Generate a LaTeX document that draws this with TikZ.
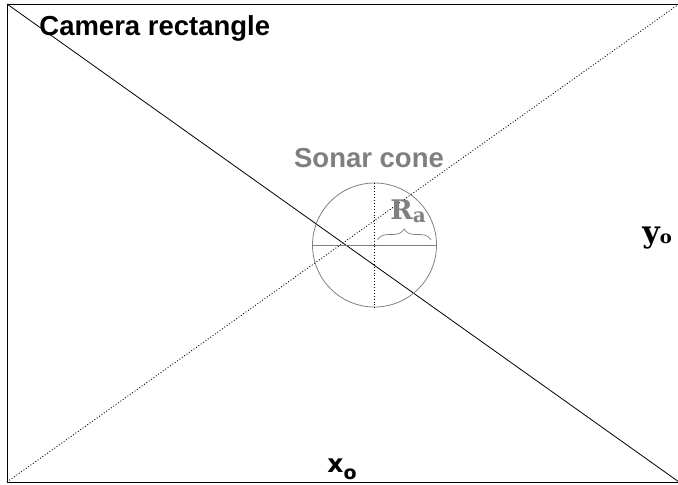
\documentclass[tikz,border=0pt]{standalone}
\usepackage{fontspec}
\setmainfont{Liberation Serif}
\setsansfont{Liberation Sans}
\newfontfamily\symserif{DejaVu Serif}
\newfontfamily\symsans{DejaVu Sans}
\usetikzlibrary{calc,decorations.pathreplacing}
\definecolor{conegray}{HTML}{7F7F7F}
% lowered subscript: size, drop, text
\newcommand{\lsub}[3]{\raisebox{-#2}{\fontsize{#1}{#1}\selectfont #3}}

\begin{document}
\begin{tikzpicture}[x=1pt, y=-1pt, line width=0.8pt,
  title/.style={font=\sffamily\bfseries\fontsize{27.5}{32}\selectfont, inner sep=0pt},
  sym/.style={font=\symserif\bfseries\fontsize{27}{32}\selectfont, inner sep=0pt},
  aux/.style={dotted, line width=0.9pt},
  cone/.style={circle, draw=conegray, minimum size=124pt, inner sep=0pt}]
  \useasboundingbox (0,0) rectangle (678,485);
  % camera frame and its diagonals
  \coordinate (tl) at (7,4);
  \coordinate (bl) at (7,482);
  \coordinate (tr) at (679,4);
  \coordinate (br) at (679,482);
  \draw (tr) -- (tl) -- (bl) -- (br);
  \draw (tl) -- (br);
  \draw[aux] (bl) -- (tr);
  \node[title, anchor=base west] (cam) at (39,35) {Camera rectangle};
  % sonar cone
  \node[cone] (sonar) at (374.5,245) {};
  \draw[conegray] (sonar.west) -- (sonar.east);
  \draw[aux] (sonar.north) -- (sonar.south);
  \draw[conegray, line width=0.7pt, decorate, decoration={brace, amplitude=11pt}]
    ($(sonar.center)+(3,-5)$) -- ($(sonar.east)+(-6,-5)$);
  \node[title, text=conegray, anchor=base] (conelbl) at (369,167) {Sonar cone};
  \node[sym, text=conegray, anchor=base west] (ra) at (390,219) {R\lsub{20pt}{3pt}{a}};
  % image axes
  \node[sym, font=\symsans\bfseries\fontsize{25}{30}\selectfont, anchor=base west] (xo) at (327,472) {x\lsub{19pt}{7pt}{o}};
  \node[sym, font=\symserif\bfseries\fontsize{30}{36}\selectfont, anchor=base west] (yo) at (642,242) {y\lsub{18pt}{1pt}{o}};
\end{tikzpicture}
\end{document}
